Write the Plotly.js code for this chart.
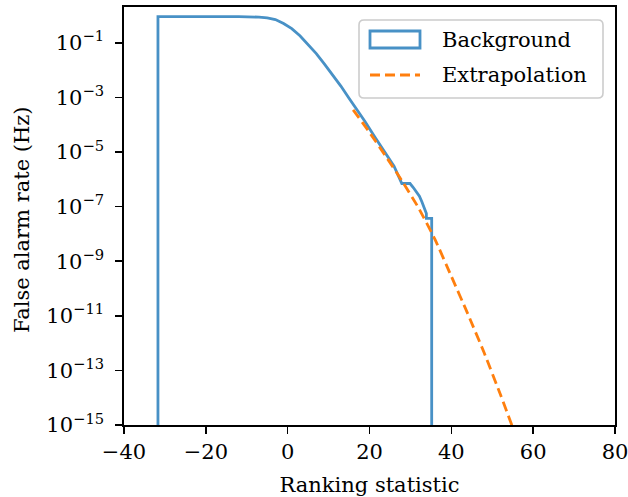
<!DOCTYPE html>
<html>
<head>
<meta charset="utf-8">
<script src="https://cdn.plot.ly/plotly-3.0.1.min.js"></script>
<style>html,body{margin:0;padding:0;background:#fff;}#chart{width:628px;height:497px;}</style>
</head>
<body>
<div id="chart"></div>
<script>
// Background (step outline of the false alarm rate, Hz)
const bgX = [-31.7, -31.7, -12, -9, -7, -5, -3, -1, 1, 3, 5, 7, 9, 11, 13, 15, 16.5, 18.9, 21.3, 23.8, 26.0, 27.9, 29.9, 30.7, 31.5, 32.2, 32.8, 33.6, 33.9, 33.9, 35.2, 35.2];
const bgY = [1e-16, 0.90, 0.90, 0.895, 0.87, 0.82, 0.71, 0.51, 0.33, 0.18, 0.087, 0.040, 0.0166, 0.0068, 0.0026, 9.3e-4, 4.4e-4, 1.3e-4, 3.5e-5, 1.0e-5, 3.0e-6, 7.0e-7, 7.0e-7, 5.0e-7, 3.5e-7, 2.4e-7, 1.5e-7, 6.5e-8, 5.6e-8, 3.7e-8, 3.7e-8, 1e-16];
// Extrapolation
const exX = [16, 20, 24, 28, 32, 36, 40, 44, 48, 52, 56];
const exY = [3.5e-4, 5.2e-5, 6.9e-6, 8.5e-7, 8.9e-8, 6.3e-9, 2.8e-10, 1.2e-11, 4.5e-13, 1.3e-14, 3.2e-16];

const seriesNames = ["Background", "Extrapolation"];
const xTitle = "Ranking statistic";
const yTitle = "False alarm rate (Hz)";
const xTickVals = [-40, -20, 0, 20, 40, 60, 80];
const xTickText = ["\u221240", "\u221220", "0", "20", "40", "60", "80"];
const yTickVals = [1e-1, 1e-3, 1e-5, 1e-7, 1e-9, 1e-11, 1e-13, 1e-15];
const yTickText = ["10<sup>\u22121</sup>", "10<sup>\u22123</sup>", "10<sup>\u22125</sup>", "10<sup>\u22127</sup>", "10<sup>\u22129</sup>", "10<sup>\u221211</sup>", "10<sup>\u221213</sup>", "10<sup>\u221215</sup>"];

const BLUE = "rgb(72,145,198)";
const ORANGE = "#ff7f0e";
const FONT = "DejaVu Serif";
const FS = 21;

// plot area in pixels
const L = 124, R = 615, T = 7, B = 425;
const W = R - L, H = B - T;
const px = x => (x - L) / W;
const py = y => (B - y) / H;

function roundRect(x0, y0, x1, y1, r) {
  return "M" + px(x0 + r) + "," + py(y0) +
    " L" + px(x1 - r) + "," + py(y0) +
    " Q" + px(x1) + "," + py(y0) + " " + px(x1) + "," + py(y0 + r) +
    " L" + px(x1) + "," + py(y1 - r) +
    " Q" + px(x1) + "," + py(y1) + " " + px(x1 - r) + "," + py(y1) +
    " L" + px(x0 + r) + "," + py(y1) +
    " Q" + px(x0) + "," + py(y1) + " " + px(x0) + "," + py(y1 - r) +
    " L" + px(x0) + "," + py(y0 + r) +
    " Q" + px(x0) + "," + py(y0) + " " + px(x0 + r) + "," + py(y0) + " Z";
}

const traces = [
  {x: bgX, y: bgY, type: "scatter", mode: "lines", name: seriesNames[0],
   line: {color: BLUE, width: 2.8, shape: "linear"}, showlegend: false},
  {x: exX, y: exY, type: "scatter", mode: "lines", name: seriesNames[1],
   line: {color: ORANGE, width: 2.8, dash: "10px,5px", shape: "spline", smoothing: 0.5}, showlegend: false}
];

const layout = {
  width: 628, height: 497,
  margin: {l: L, r: 628 - R, t: T, b: 497 - B},
  paper_bgcolor: "#fff", plot_bgcolor: "#fff",
  font: {family: FONT, size: FS, color: "#000"},
  showlegend: false,
  xaxis: {
    range: [-40, 80], tickmode: "array", tickvals: xTickVals, ticktext: xTickText,
    ticks: "outside", ticklen: 7, tickwidth: 1.6, tickcolor: "#000",
    showline: true, mirror: true, linecolor: "#000", linewidth: 1.7,
    showgrid: false, zeroline: false, ticklabeloverflow: "allow",
    tickfont: {family: FONT, size: FS, color: "#000"},
    title: {text: xTitle, font: {family: FONT, size: FS, color: "#000"}, standoff: 15}
  },
  yaxis: {
    type: "log", range: [-15, 0.31], tickmode: "array", tickvals: yTickVals, ticktext: yTickText,
    ticks: "outside", ticklen: 7, tickwidth: 1.6, tickcolor: "#000",
    showline: true, mirror: true, linecolor: "#000", linewidth: 1.7,
    showgrid: false, zeroline: false, ticklabelstandoff: 7,
    tickfont: {family: FONT, size: FS, color: "#000"}
  },
  shapes: [
    {type: "path", xref: "paper", yref: "paper", path: roundRect(359, 20, 603, 98, 5),
     fillcolor: "rgba(255,255,255,0.85)", line: {color: "#cccccc", width: 1.6}},
    {type: "rect", xref: "paper", yref: "paper", x0: px(370), x1: px(420), y0: py(48), y1: py(31),
     fillcolor: "rgba(0,0,0,0)", line: {color: BLUE, width: 2.8}},
    {type: "line", xref: "paper", yref: "paper", x0: px(370), x1: px(420), y0: py(75), y1: py(75),
     line: {color: ORANGE, width: 2.8, dash: "10px,5px"}}
  ],
  annotations: [
    {xref: "paper", yref: "paper", x: px(22), y: py(220), xanchor: "center", yanchor: "middle",
     textangle: -90, text: yTitle, showarrow: false, font: {family: FONT, size: FS, color: "#000"}},
    {xref: "paper", yref: "paper", x: px(440), y: py(40), xanchor: "left", yanchor: "middle",
     text: seriesNames[0], showarrow: false, font: {family: FONT, size: FS, color: "#000"}},
    {xref: "paper", yref: "paper", x: px(440), y: py(75), xanchor: "left", yanchor: "middle",
     text: seriesNames[1], showarrow: false, font: {family: FONT, size: FS, color: "#000"}}
  ]
};

Plotly.newPlot("chart", traces, layout, {displayModeBar: false, staticPlot: true});
</script>
</body>
</html>
